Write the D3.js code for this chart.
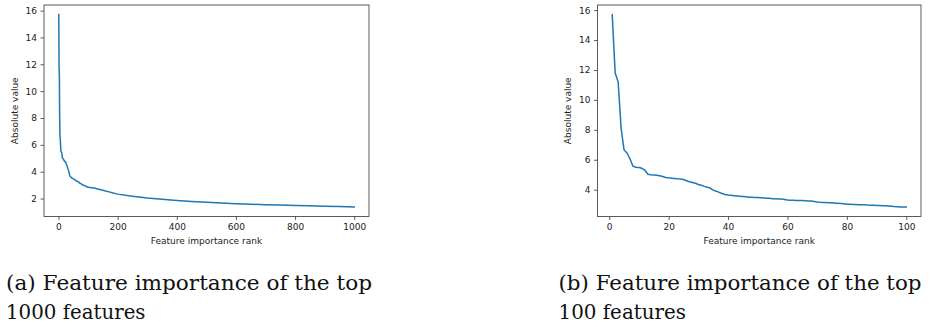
<!DOCTYPE html>
<html><head><meta charset="utf-8">
<script src="https://cdn.jsdelivr.net/npm/d3@7"></script>
<style>
html,body{margin:0;padding:0;background:#fff;}
svg{display:block;}
.tick text{font-family:"DejaVu Sans",sans-serif;font-size:9px;fill:#222;}
.axlabel{font-family:"DejaVu Sans",sans-serif;font-size:9px;fill:#222;}
.caption{font-family:"DejaVu Serif",serif;font-size:21px;fill:#111;}
</style></head>
<body>
<svg id="chart" width="930" height="327"></svg>
<script>
// Feature importance (absolute value) of top-ranked features, ranks 1..100
const top100Values = [
 15.7, 11.8, 11.2, 8.1, 6.65, 6.45, 6.05, 5.57, 5.5, 5.48,
 5.43, 5.3, 5.03, 5.0, 4.98, 4.96, 4.93, 4.88, 4.82, 4.79,
 4.77, 4.75, 4.73, 4.72, 4.68, 4.6, 4.53, 4.48, 4.43, 4.35,
 4.3, 4.22, 4.16, 4.11, 3.97, 3.9, 3.82, 3.74, 3.68, 3.64,
 3.62, 3.6, 3.58, 3.56, 3.54, 3.52, 3.5, 3.49, 3.48, 3.47,
 3.46, 3.45, 3.43, 3.42, 3.4, 3.39, 3.38, 3.37, 3.35, 3.31,
 3.3, 3.29, 3.28, 3.27, 3.27, 3.26, 3.25, 3.24, 3.21, 3.18,
 3.16, 3.15, 3.14, 3.13, 3.12, 3.1, 3.09, 3.08, 3.06, 3.03,
 3.02, 3.01, 3.01, 3.0, 3.0, 2.99, 2.97, 2.96, 2.96, 2.95,
 2.94, 2.93, 2.92, 2.91, 2.89, 2.87, 2.86, 2.85, 2.85, 2.85
];
// Remaining ranks of the top-1000 curve (sampled ranks and values)
const tailRanks  = [120, 150, 200, 250, 300, 350, 400, 450, 500, 550, 600, 650, 700, 750, 800, 850, 900, 950, 1000];
const tailValues = [2.78, 2.62, 2.33, 2.18, 2.05, 1.95, 1.86, 1.79, 1.72, 1.67, 1.62, 1.58, 1.54, 1.52, 1.49, 1.46, 1.43, 1.41, 1.38];

const xTicksA = [0, 200, 400, 600, 800, 1000];
const xTicksB = [0, 20, 40, 60, 80, 100];
const yTicksA = [2, 4, 6, 8, 10, 12, 14, 16];
const yTicksB = [4, 6, 8, 10, 12, 14, 16];

const xLabel = "Feature importance rank";
const yLabel = "Absolute value";
const captionA = ["(a) Feature importance of the top", "1000 features"];
const captionB = ["(b) Feature importance of the top", "100 features"];

const top100 = top100Values.map((v, i) => ({r: i + 1, v}));
const top1000 = top100.concat(tailRanks.map((r, i) => ({r, v: tailValues[i]})));

const svg = d3.select("#chart");

function marginDomain(ext) {
  const m = (ext[1] - ext[0]) * 0.05;
  return [ext[0] - m, ext[1] + m];
}

function panel(data, box, xTicks, yTicks, ylabX) {
  const x = d3.scaleLinear().domain(marginDomain(d3.extent(data, d => d.r))).range([box.l, box.r]);
  const y = d3.scaleLinear().domain(marginDomain(d3.extent(data, d => d.v))).range([box.b, box.t]);
  const g = svg.append("g");

  g.append("path").datum(data)
    .attr("fill", "none").attr("stroke", "#1f77b4").attr("stroke-width", 1.5)
    .attr("stroke-linejoin", "round").attr("stroke-linecap", "square")
    .attr("d", d3.line().x(d => x(d.r)).y(d => y(d.v)));

  const xa = g.append("g").attr("transform", `translate(0,${box.b})`)
    .call(d3.axisBottom(x).tickValues(xTicks).tickSize(3.5).tickPadding(3.5).tickFormat(d3.format("d")));
  const ya = g.append("g").attr("transform", `translate(${box.l},0)`)
    .call(d3.axisLeft(y).tickValues(yTicks).tickSize(3.5).tickPadding(3.5).tickFormat(d3.format("d")));
  [xa, ya].forEach(a => {
    a.select(".domain").remove();
    a.selectAll(".tick line").attr("stroke", "#333").attr("stroke-width", 0.8);
  });

  g.append("rect").attr("x", box.l).attr("y", box.t)
    .attr("width", box.r - box.l).attr("height", box.b - box.t)
    .attr("fill", "none").attr("stroke", "#333").attr("stroke-width", 0.8);

  g.append("text").attr("class", "axlabel")
    .attr("x", (box.l + box.r) / 2).attr("y", 243.5)
    .attr("text-anchor", "middle").text(xLabel);
  g.append("text").attr("class", "axlabel")
    .attr("transform", `translate(${ylabX},${(box.t + box.b) / 2}) rotate(-90)`)
    .attr("text-anchor", "middle").text(yLabel);
}

panel(top1000, {l: 44, r: 369, t: 5, b: 216.5}, xTicksA, yTicksA, 17.5);
panel(top100, {l: 597.5, r: 921, t: 5, b: 216.5}, xTicksB, yTicksB, 570.5);

function caption(lines, x, widths) {
  lines.forEach((s, i) => {
    svg.append("text").attr("class", "caption")
      .attr("x", x).attr("y", 289.5 + i * 29).text(s)
      .attr("textLength", widths[i]).attr("lengthAdjust", "spacingAndGlyphs");
  });
}
caption(captionA, 6, [366, 139.5]);
caption(captionB, 558.5, [363, 127.5]);
</script>
</body></html>
